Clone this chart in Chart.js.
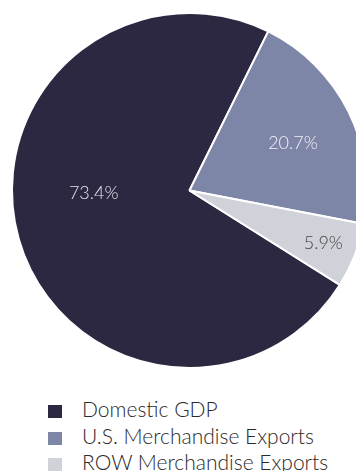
<!DOCTYPE html>
<html>
<head>
<meta charset="utf-8">
<script src="https://cdn.jsdelivr.net/npm/chart.js@4/dist/chart.umd.min.js"></script>
<style>
  html, body { margin: 0; padding: 0; background: #fff; width: 356px; height: 471px; overflow: hidden; position: relative; }
  #pie { position: absolute; left: 0; top: 0; }
  #legend { position: absolute; left: 48px; top: 396px; font-family: Lato, sans-serif; font-weight: 300; font-size: 21px; color: #2a2a2a; }
  .row { height: 26.5px; line-height: 26.5px; white-space: nowrap; }
  .box { display: inline-block; width: 14px; height: 13px; margin-right: 20px; vertical-align: -1px; }
</style>
</head>
<body>
<canvas id="pie" width="379" height="381"></canvas>
<div id="legend"></div>
<script>
const categories = ["Domestic GDP", "U.S. Merchandise Exports", "ROW Merchandise Exports"];
const shares = [73.4, 20.7, 5.9];
const pctLabels = ["73.4%", "20.7%", "5.9%"];
const colors = ["#2c2842", "#7e86a8", "#cfd2d8"];

const labelColors = ["#e4e4ec", "#f2f2f6", "#444444"];
const labelRadius = [0.54, 0.64, 0.81];
const labelAngleShift = [14, 2, 0];

const sliceLabels = {
  id: "sliceLabels",
  afterDatasetsDraw(chart) {
    const ctx = chart.ctx;
    const arcs = chart.getDatasetMeta(0).data;
    ctx.save();
    ctx.font = "300 18px Lato, sans-serif";
    ctx.textAlign = "center";
    ctx.textBaseline = "middle";
    arcs.forEach((arc, i) => {
      const p = arc.getProps(["x", "y", "startAngle", "endAngle", "outerRadius"], true);
      const a = (p.startAngle + p.endAngle) / 2 + labelAngleShift[i] * Math.PI / 180;
      const r = p.outerRadius * labelRadius[i];
      ctx.fillStyle = labelColors[i];
      ctx.fillText(pctLabels[i], p.x + Math.cos(a) * r, p.y + Math.sin(a) * r);
    });
    ctx.restore();
  }
};

new Chart(document.getElementById("pie").getContext("2d"), {
  type: "pie",
  data: {
    labels: categories,
    datasets: [{
      data: shares,
      backgroundColor: colors,
      borderColor: "#ffffff",
      borderWidth: 2
    }]
  },
  options: {
    responsive: false,
    animation: false,
    rotation: 122.1,
    layout: { padding: { top: 12, bottom: 12 } },
    plugins: {
      legend: { display: false },
      tooltip: { enabled: false }
    }
  },
  plugins: [sliceLabels]
});

const legend = document.getElementById("legend");
categories.forEach((name, i) => {
  const row = document.createElement("div");
  row.className = "row";
  const box = document.createElement("span");
  box.className = "box";
  box.style.background = colors[i];
  row.appendChild(box);
  row.appendChild(document.createTextNode(name));
  legend.appendChild(row);
});
</script>
</body>
</html>
